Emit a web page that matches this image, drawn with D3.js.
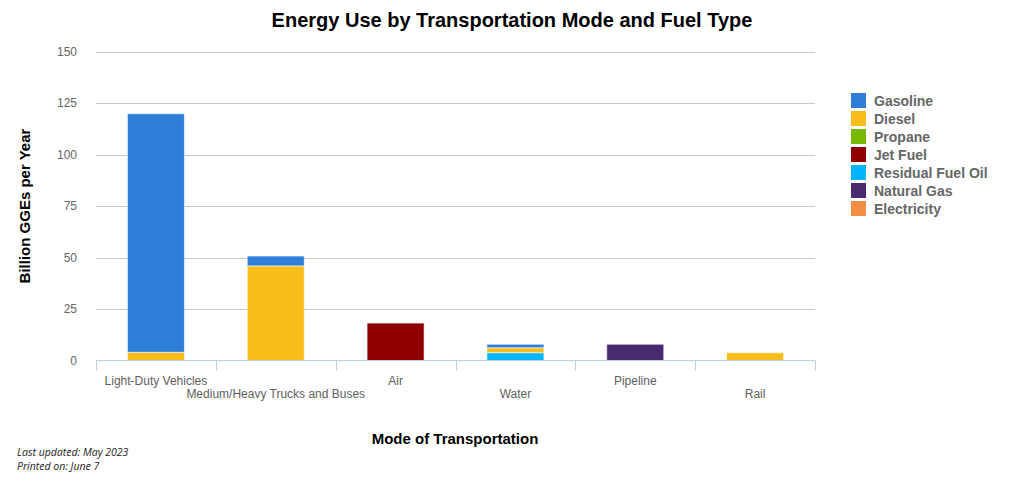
<!DOCTYPE html>
<html><head><meta charset="utf-8">
<script src="https://cdn.jsdelivr.net/npm/d3@7"></script>
<style>body{margin:0;background:#fff}svg{font-family:"Liberation Sans",Arial,sans-serif}</style>
</head><body><svg id="c" width="1024" height="482"></svg>
<script>
const categories = ["Light-Duty Vehicles","Medium/Heavy Trucks and Buses","Air","Water","Pipeline","Rail"];
const fuels = ["Gasoline","Diesel","Propane","Jet Fuel","Residual Fuel Oil","Natural Gas","Electricity"];
const colors = ["#2f7ed8","#f8bd19","#77b800","#910000","#00b4ff","#492970","#f28f43"];
// values per category (billion GGEs per year), one array per fuel
const gasoline = [116, 4.8, 0, 1.7, 0, 0];
const diesel   = [4, 46, 0, 2.4, 0, 3.8];
const propane  = [0, 0, 0, 0, 0, 0];
const jetFuel  = [0, 0, 18.2, 0, 0, 0];
const residual = [0, 0, 0, 3.8, 0, 0];
const natGas   = [0, 0, 0, 0, 7.9, 0];
const electric = [0, 0, 0, 0, 0, 0];
const yTicks = [0,25,50,75,100,125,150];

const series = [gasoline, diesel, propane, jetFuel, residual, natGas, electric];

const svg = d3.select("#c");
const L=96, R=815, T=52, B=360.5;
const x = d3.scaleBand().domain(categories).range([L,R]).paddingInner(0).paddingOuter(0);
const y = d3.scaleLinear().domain([0,150]).range([B,T]);

// gridlines
svg.append("g").selectAll("line").data(yTicks.filter(d=>d>0)).join("line")
  .attr("x1",L).attr("x2",R).attr("y1",d=>Math.round(y(d))+0.5).attr("y2",d=>Math.round(y(d))+0.5)
  .attr("stroke","#c8c8c8").attr("stroke-width",1);
// y labels
svg.append("g").selectAll("text").data(yTicks).join("text")
  .attr("x",77).attr("y",d=>y(d)+4).attr("text-anchor","end")
  .attr("font-size",12).attr("fill","#666").text(d=>d);

// stacked bars: first fuel on top, so stack keys reversed
const stackData = categories.map((c,i)=>{const o={cat:c}; fuels.forEach((f,j)=>o[f]=series[j][i]); return o;});
const layers = d3.stack().keys(fuels.slice().reverse())(stackData);
const bw = 57;
layers.forEach(layer=>{
  const ci = fuels.indexOf(layer.key);
  svg.append("g").selectAll("rect").data(layer.filter(d=>d[1]-d[0]>0)).join("rect")
    .attr("x",d=>x(d.data.cat)+x.bandwidth()/2-bw/2)
    .attr("width",bw)
    .attr("y",d=>y(d[1]))
    .attr("height",d=>y(d[0])-y(d[1]))
    .attr("fill",colors[ci])
    .attr("stroke","#ffffff").attr("stroke-opacity",0.6).attr("stroke-width",1);
});

// x axis
svg.append("line").attr("x1",L).attr("x2",R).attr("y1",360.5).attr("y2",360.5).attr("stroke","#c0d0e0");
const bounds = categories.map(c=>x(c)).concat([R]);
svg.append("g").selectAll("line").data(bounds).join("line")
  .attr("x1",d=>Math.round(d)+0.5).attr("x2",d=>Math.round(d)+0.5).attr("y1",360.5).attr("y2",371)
  .attr("stroke","#c0d0e0");
svg.append("g").selectAll("text").data(categories).join("text")
  .attr("x",d=>x(d)+x.bandwidth()/2).attr("y",(d,i)=>i%2?398:385)
  .attr("text-anchor","middle").attr("font-size",12).attr("fill","#606060").text(d=>d);

// titles
svg.append("text").attr("x",512).attr("y",27).attr("text-anchor","middle")
  .attr("font-size",20).attr("font-weight","bold").attr("fill","#000")
  .text("Energy Use by Transportation Mode and Fuel Type");
svg.append("text").attr("transform","translate(30,206) rotate(-90)").attr("text-anchor","middle")
  .attr("font-size",15).attr("font-weight","bold").attr("fill","#000").text("Billion GGEs per Year");
svg.append("text").attr("x",455).attr("y",444).attr("text-anchor","middle")
  .attr("font-size",15).attr("font-weight","bold").attr("fill","#000").text("Mode of Transportation");

// legend
const lg = svg.append("g").selectAll("g").data(fuels).join("g")
  .attr("transform",(d,i)=>`translate(851,${93+i*18})`);
lg.append("rect").attr("width",15).attr("height",15).attr("fill",(d,i)=>colors[i]);
lg.append("text").attr("x",23).attr("y",13).attr("font-size",14).attr("font-weight","bold")
  .attr("fill","#666").text(d=>d);

// footnotes
svg.append("text").attr("x",17).attr("y",456).attr("font-size",10.5).attr("font-style","italic")
  .attr("font-family","'Open Sans',sans-serif")
  .attr("fill","#222").text("Last updated: May 2023");
svg.append("text").attr("x",17).attr("y",470).attr("font-size",10.5).attr("font-style","italic")
  .attr("font-family","'Open Sans',sans-serif")
  .attr("fill","#222").text("Printed on: June 7");
</script></body></html>
